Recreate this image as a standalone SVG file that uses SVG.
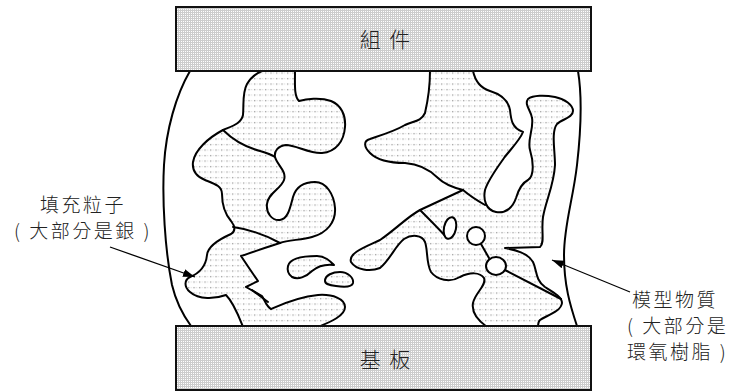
<svg xmlns="http://www.w3.org/2000/svg" width="735" height="392" viewBox="0 0 735 392">
  <defs>
    <!-- fine mesh used for the component and substrate plates -->
    <pattern id="mesh" width="2" height="2" patternUnits="userSpaceOnUse">
      <rect width="2" height="2" fill="#cdcdcd"/>
      <rect x="1" y="1" width="1" height="1" fill="#ffffff"/>
    </pattern>
    <!-- dotted fill for the filler particles -->
    <pattern id="dots" width="5.5" height="5.5" patternUnits="userSpaceOnUse">
      <rect width="5.5" height="5.5" fill="#ffffff"/>
      <rect x="1" y="1" width="1.2" height="1.2" fill="#8c8c8c"/>
      <rect x="3.6" y="1.2" width="1.2" height="0.8" fill="#d0d0d0"/>
    </pattern>
    <marker id="head" markerWidth="13" markerHeight="9" refX="12" refY="4" orient="auto" markerUnits="userSpaceOnUse">
      <path d="M0,0 L12,4 L0,8 Z" fill="#000"/>
    </marker>
    <style>
      .plate { fill: url(#mesh); stroke: #111; stroke-width: 2; }
      .blob { fill: url(#dots); stroke: #000; stroke-width: 2; stroke-linejoin: round; }
      .hole { fill: #ffffff; stroke: #000; stroke-width: 2; }
      .seam { fill: none; stroke: #000; stroke-width: 2; stroke-linecap: round; }
      .mold { fill: none; stroke: #000; stroke-width: 2; }
      .lead { fill: none; stroke: #000; stroke-width: 1.3; marker-end: url(#head); }
      .label { font-family: "Noto Sans CJK TC", "Noto Sans CJK JP", sans-serif; font-size: 19px; font-weight: 300; letter-spacing: 2.5px; fill: #222; }
      .plate-label { font-family: "Noto Sans CJK TC", "Noto Sans CJK JP", sans-serif; font-size: 21px; font-weight: 300; letter-spacing: 2px; fill: #222; }
    </style>
  </defs>

  <!-- molding compound boundary -->
  <g id="mold">
    <path class="mold" d="M190,71 C176,95 166,130 164,165 C162,200 165,250 172,285 C176,302 183,315 191,326"/>
    <path class="mold" d="M578,71 C582,95 581,130 577,165 C573,200 564,225 564,255 C564,285 570,305 577,326"/>
  </g>

  <!-- left cluster of filler particles -->
  <g id="filler-left">
    <path class="blob" d="M262,71 L295,71 C295,85 294,96 299,101 C306,99 320,97 331,101 C341,105 346,115 345,127 C344,141 336,152 322,153 C310,154 296,145 286,145 C278,146 274,151 275,157 C277,165 287,171 284,180 C281,189 268,193 267,204 C266,213 272,221 280,220 C288,219 290,208 293,197 C296,187 304,182 315,182 C326,182 334,194 335,208 C336,222 327,233 312,237 C301,240 288,240 280,243 C270,246 256,251 241,256 C247,265 253,274 258,281 L246,287 L262,296 C265,301 267,307 271,309 C280,305 297,297 318,295 C333,294 345,299 345,307 C345,316 330,322 318,327 L243,327 C239,317 234,303 226,295 C215,299 199,300 190,292 C184,287 184,280 190,277 C200,273 206,265 207,255 C208,245 222,238 231,234 C236,231 235,226 231,221 C225,214 222,203 222,194 C222,186 215,184 205,180 C195,176 192,170 193,162 C195,150 208,138 223,130 C232,126 241,124 243,115 C244,105 242,93 247,84 C251,77 257,73 262,71 Z"/>
    <path class="seam" d="M223,130 C232,139 245,147 260,151 C267,153 272,155 275,157"/>
    <path class="seam" d="M233,227 C248,229 265,235 280,243"/>
    <path class="seam" d="M252,290 L268,302"/>
  </g>

  <!-- small isolated particles -->
  <g id="filler-small-1">
    <path class="blob" d="M288,266 C290,258 305,256 317,256 C325,256 330,261 334,265 C325,264 318,266 312,271 C306,277 298,280 292,277 C288,274 287,270 288,266 Z"/>
  </g>
  <g id="filler-small-2">
    <path class="blob" d="M325,281 C325,275 333,272 340,272 C348,272 354,278 353,283 C352,287 343,287 336,286 C329,285 325,284 325,281 Z"/>
  </g>

  <!-- right cluster of filler particles -->
  <g id="filler-right">
    <path class="blob" d="M430,71 L473,71 C475,80 480,88 490,91 C500,94 508,99 510,110 C511,120 512,128 523,132 C520,140 510,150 504,158 C497,168 488,180 485,190 C483,200 486,210 496,212 C506,214 513,207 516,198 C519,188 522,183 528,180 C535,175 533,160 530,150 C527,140 534,128 532,118 C531,110 524,105 528,99 C533,95 545,95 555,97 C565,99 573,105 573,111 C573,118 562,119 557,124 C551,132 555,150 555,165 C554,185 546,200 543,217 C541,230 545,243 540,247 L505,248 C515,250 528,253 533,262 C537,270 535,280 545,287 C553,292 562,297 562,303 C561,312 545,316 540,320 C538,322 538,324 538,327 L487,327 C480,322 471,314 473,303 C475,293 487,285 484,278 C480,272 470,272 460,277 C450,283 437,280 431,272 C426,263 428,250 425,242 C422,235 412,234 404,239 C395,246 390,260 380,268 C370,272 356,270 351,262 C348,253 365,247 380,240 C395,230 407,217 420,210 C435,203 450,196 463,190 C455,188 445,185 438,178 C430,170 420,164 405,163 C390,163 377,160 370,153 C364,147 363,141 370,139 C382,135 395,131 405,125 C413,121 421,122 425,113 C428,100 430,85 430,71 Z"/>
    <path class="seam" d="M463,190 C470,196 478,201 485,205"/>
    <path class="seam" d="M420,210 C430,220 440,230 447,238"/>
    <path class="seam" d="M481,244 L489,258"/>
    <path class="seam" d="M505,270 L561,299"/>
    <ellipse class="hole" cx="450" cy="228" rx="6" ry="11" transform="rotate(12 450 228)"/>
    <circle class="hole" cx="476" cy="236" r="9"/>
    <ellipse class="hole" cx="496" cy="266" rx="10" ry="9"/>
  </g>

  <!-- component plate -->
  <g id="component">
    <rect class="plate" x="176" y="7" width="415" height="64"/>
    <text class="plate-label" x="386" y="47" text-anchor="middle">組 件</text>
  </g>

  <!-- substrate plate -->
  <g id="substrate">
    <rect class="plate" x="176" y="326" width="415" height="64"/>
    <text class="plate-label" x="386" y="367" text-anchor="middle">基 板</text>
  </g>

  <!-- leader lines -->
  <g id="connectors">
    <line class="lead" x1="110" y1="247" x2="195" y2="277"/>
    <line class="lead" x1="630" y1="292" x2="552" y2="260"/>
  </g>

  <g id="label-filler">
    <text class="label" x="83" y="212" text-anchor="middle">填充粒子</text>
    <text class="label" x="83" y="238" text-anchor="middle">( 大部分是銀 )</text>
  </g>

  <g id="label-mold">
    <text class="label" x="632" y="307">模型物質</text>
    <text class="label" x="627" y="333">( 大部分是</text>
    <text class="label" x="627" y="359">環氧樹脂 )</text>
  </g>
</svg>
